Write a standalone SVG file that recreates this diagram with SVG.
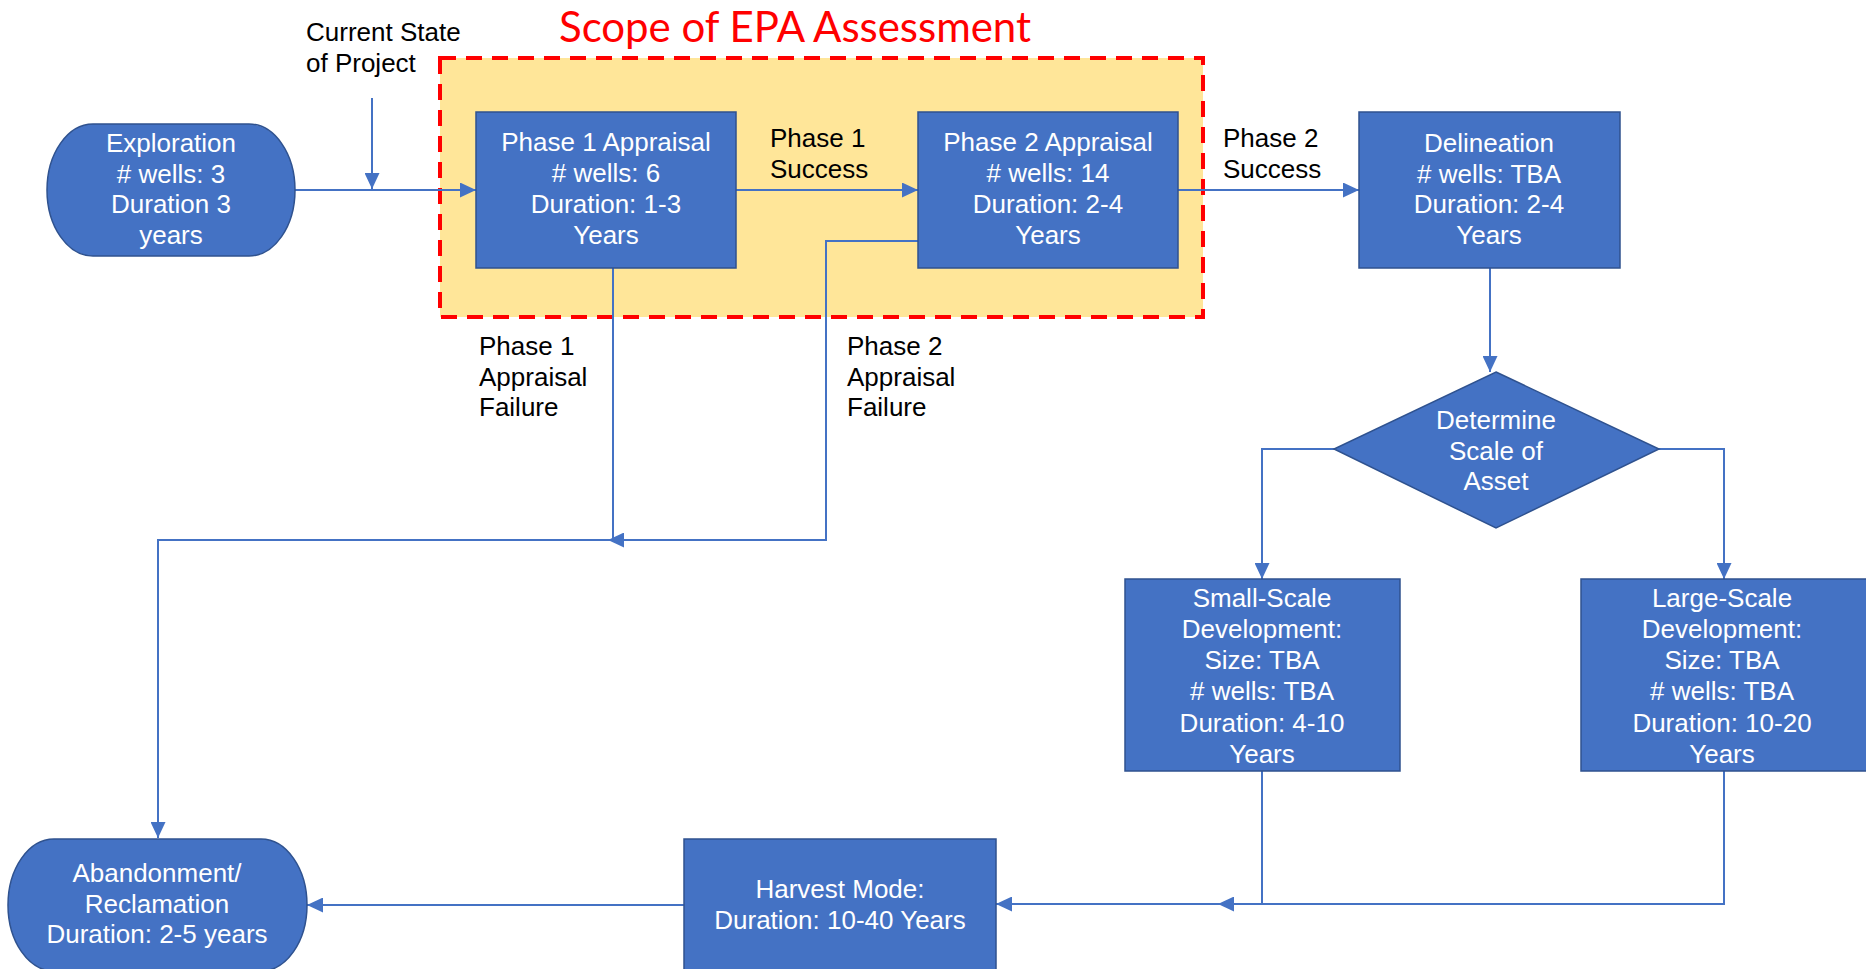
<svg xmlns="http://www.w3.org/2000/svg" width="1866" height="969" viewBox="0 0 1866 969">
<style>
.box{fill:#4472C4;stroke:#2F528F;stroke-width:1.5}
.t{font-family:"Liberation Sans",Arial,sans-serif;font-size:26px;fill:#FFFFFF;text-anchor:middle}
.lbl{font-family:"Liberation Sans",Arial,sans-serif;font-size:26px;fill:#000000}
.c{fill:none;stroke:#4472C4;stroke-width:2}
</style>
<defs>
<marker id="ah" markerUnits="userSpaceOnUse" markerWidth="16" markerHeight="15" refX="16" refY="7.5" orient="auto">
<path d="M0,0 L16,7.5 L0,15 Z" fill="#4472C4"/>
</marker>
</defs>
<rect width="1866" height="969" fill="#FFFFFF"/>

<g id="scope">
<rect x="440" y="58" width="763" height="259" fill="#FFE699" stroke="#FF0000" stroke-width="4" stroke-dasharray="16 10"/>
<text x="559" y="42" font-family="Lato,'Open Sans',sans-serif" font-size="42" fill="#FF0000" textLength="472">Scope of EPA Assessment</text>
</g>

<g id="connectors">
<path class="c" d="M295,190 L476,190" marker-end="url(#ah)"/>
<path class="c" d="M372,98 L372,189" marker-end="url(#ah)"/>
<path class="c" d="M736,190 L918,190" marker-end="url(#ah)"/>
<path class="c" d="M1178,190 L1359,190" marker-end="url(#ah)"/>
<path class="c" d="M613,268 L613,540 L158,540 L158,838" marker-end="url(#ah)"/>
<path class="c" d="M918,241 L826,241 L826,540 L608,540" marker-end="url(#ah)"/>
<path class="c" d="M1490,268 L1490,372" marker-end="url(#ah)"/>
<path class="c" d="M1334,449 L1262,449 L1262,579" marker-end="url(#ah)"/>
<path class="c" d="M1659,449 L1724,449 L1724,579" marker-end="url(#ah)"/>
<path class="c" d="M1724,771 L1724,904 L1218,904" marker-end="url(#ah)"/>
<path class="c" d="M1262,771 L1262,904 L996,904" marker-end="url(#ah)"/>
<path class="c" d="M684,905 L307,905" marker-end="url(#ah)"/>
</g>

<g id="current-state">
<text class="lbl" x="306" y="41">Current State</text>
<text class="lbl" x="306" y="72">of Project</text>
</g>

<g id="exploration">
<rect class="box" x="47" y="124" width="248" height="132" rx="46" ry="66"/>
<text class="t" x="171" y="152">Exploration</text>
<text class="t" x="171" y="183"># wells: 3</text>
<text class="t" x="171" y="213">Duration 3</text>
<text class="t" x="171" y="244">years</text>
</g>

<g id="phase1">
<rect class="box" x="476" y="112" width="260" height="156"/>
<text class="t" x="606" y="151">Phase 1 Appraisal</text>
<text class="t" x="606" y="182"># wells: 6</text>
<text class="t" x="606" y="213">Duration: 1-3</text>
<text class="t" x="606" y="244">Years</text>
</g>

<g id="phase2">
<rect class="box" x="918" y="112" width="260" height="156"/>
<text class="t" x="1048" y="151">Phase 2 Appraisal</text>
<text class="t" x="1048" y="182"># wells: 14</text>
<text class="t" x="1048" y="213">Duration: 2-4</text>
<text class="t" x="1048" y="244">Years</text>
</g>

<g id="delineation">
<rect class="box" x="1359" y="112" width="261" height="156"/>
<text class="t" x="1489" y="152">Delineation</text>
<text class="t" x="1489" y="183"># wells: TBA</text>
<text class="t" x="1489" y="213">Duration: 2-4</text>
<text class="t" x="1489" y="244">Years</text>
</g>

<g id="label-p1-success">
<text class="lbl" x="770" y="147">Phase 1</text>
<text class="lbl" x="770" y="178">Success</text>
</g>
<g id="label-p2-success">
<text class="lbl" x="1223" y="147">Phase 2</text>
<text class="lbl" x="1223" y="178">Success</text>
</g>
<g id="label-p1-failure">
<text class="lbl" x="479" y="355">Phase 1</text>
<text class="lbl" x="479" y="386">Appraisal</text>
<text class="lbl" x="479" y="416">Failure</text>
</g>
<g id="label-p2-failure">
<text class="lbl" x="847" y="355">Phase 2</text>
<text class="lbl" x="847" y="386">Appraisal</text>
<text class="lbl" x="847" y="416">Failure</text>
</g>

<g id="determine-scale">
<polygon class="box" points="1496,372 1659,449 1496,528 1334,449"/>
<text class="t" x="1496" y="429">Determine</text>
<text class="t" x="1496" y="460">Scale of</text>
<text class="t" x="1496" y="490">Asset</text>
</g>

<g id="small-scale">
<rect class="box" x="1125" y="579" width="275" height="192"/>
<text class="t" x="1262" y="607">Small-Scale</text>
<text class="t" x="1262" y="638">Development:</text>
<text class="t" x="1262" y="669">Size: TBA</text>
<text class="t" x="1262" y="700"># wells: TBA</text>
<text class="t" x="1262" y="732">Duration: 4-10</text>
<text class="t" x="1262" y="763">Years</text>
</g>

<g id="large-scale">
<rect class="box" x="1581" y="579" width="300" height="192"/>
<text class="t" x="1722" y="607">Large-Scale</text>
<text class="t" x="1722" y="638">Development:</text>
<text class="t" x="1722" y="669">Size: TBA</text>
<text class="t" x="1722" y="700"># wells: TBA</text>
<text class="t" x="1722" y="732">Duration: 10-20</text>
<text class="t" x="1722" y="763">Years</text>
</g>

<g id="harvest">
<rect class="box" x="684" y="839" width="312" height="140"/>
<text class="t" x="840" y="898">Harvest Mode:</text>
<text class="t" x="840" y="929">Duration: 10-40 Years</text>
</g>

<g id="abandonment">
<rect class="box" x="8" y="839" width="299" height="132" rx="46" ry="66"/>
<text class="t" x="157" y="882">Abandonment/</text>
<text class="t" x="157" y="913">Reclamation</text>
<text class="t" x="157" y="943">Duration: 2-5 years</text>
</g>
</svg>
